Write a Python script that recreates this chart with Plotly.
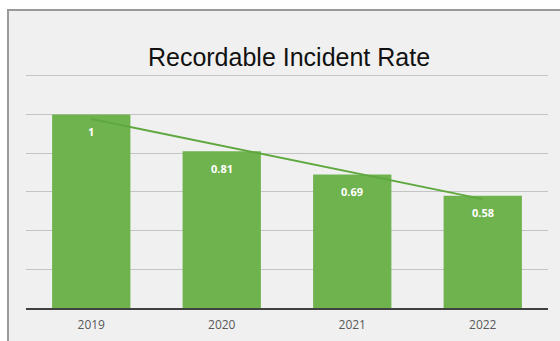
import numpy as np
import plotly.graph_objects as go

years = ["2019", "2020", "2021", "2022"]
rates = [1.0, 0.81, 0.69, 0.58]
labels = ["1", "0.81", "0.69", "0.58"]

# linear trendline (least squares over category index)
idx = np.arange(len(rates))
slope, intercept = np.polyfit(idx, rates, 1)
trend = (slope * idx + intercept).tolist()
xpos = idx.tolist()

W, H = 560, 341
ml, mr, mt, mb = 26, 12, 74, 33
pw, ph = W - ml - mr, H - mt - mb

def px_x(p):
    return (p - ml) / pw

def px_y(p):
    return (H - mb - p) / ph

fig = go.Figure()
fig.add_trace(go.Bar(
    x=xpos, y=rates, marker=dict(color="#6fb34f", line=dict(width=0)),
    hoverinfo="skip", showlegend=False,
))
fig.add_trace(go.Scatter(
    x=xpos, y=trend, mode="lines",
    line=dict(color="#5fa83f", width=2), hoverinfo="skip", showlegend=False,
))

for i, v, t in zip(xpos, rates, labels):
    fig.add_annotation(
        x=i, y=v, text="<b>" + t + "</b>", showarrow=False, yshift=-17,
        yanchor="middle",
        font=dict(family="Open Sans", size=11, color="white"),
    )

fig.update_layout(
    width=W, height=H,
    margin=dict(l=ml, r=mr, t=mt, b=mb, pad=0, autoexpand=False),
    paper_bgcolor="white",
    plot_bgcolor="rgba(0,0,0,0)",
    bargap=0.4,
    title=dict(
        text="Recordable Incident Rate",
        font=dict(family="Liberation Sans", size=25, color="#111111"),
        x=289 / W, xanchor="center",
        y=(H - 57) / H, yanchor="middle",
    ),
    xaxis=dict(
        range=[-0.5, len(years) - 0.5], tickvals=xpos, ticktext=years,
        showgrid=False, showline=True, linecolor="#404040",
        linewidth=2, ticks="outside", ticklen=5, tickcolor="rgba(0,0,0,0)",
        tickfont=dict(family="Open Sans", size=12, color="#595959"),
        zeroline=False, fixedrange=True, automargin=False,
    ),
    yaxis=dict(
        range=[0, 1.21], tickvals=[0.2, 0.4, 0.6, 0.8, 1.0, 1.2],
        showticklabels=False, showgrid=True, automargin=False,
        gridcolor="#c4c4c4", gridwidth=1, zeroline=False, fixedrange=True,
    ),
    shapes=[dict(
        type="rect", xref="paper", yref="paper", layer="below",
        x0=px_x(8), x1=px_x(575), y0=px_y(350), y1=px_y(10),
        fillcolor="#f0f0f0", line=dict(color="#9a9a9a", width=2),
    )],
)

fig.write_html("out.html")
